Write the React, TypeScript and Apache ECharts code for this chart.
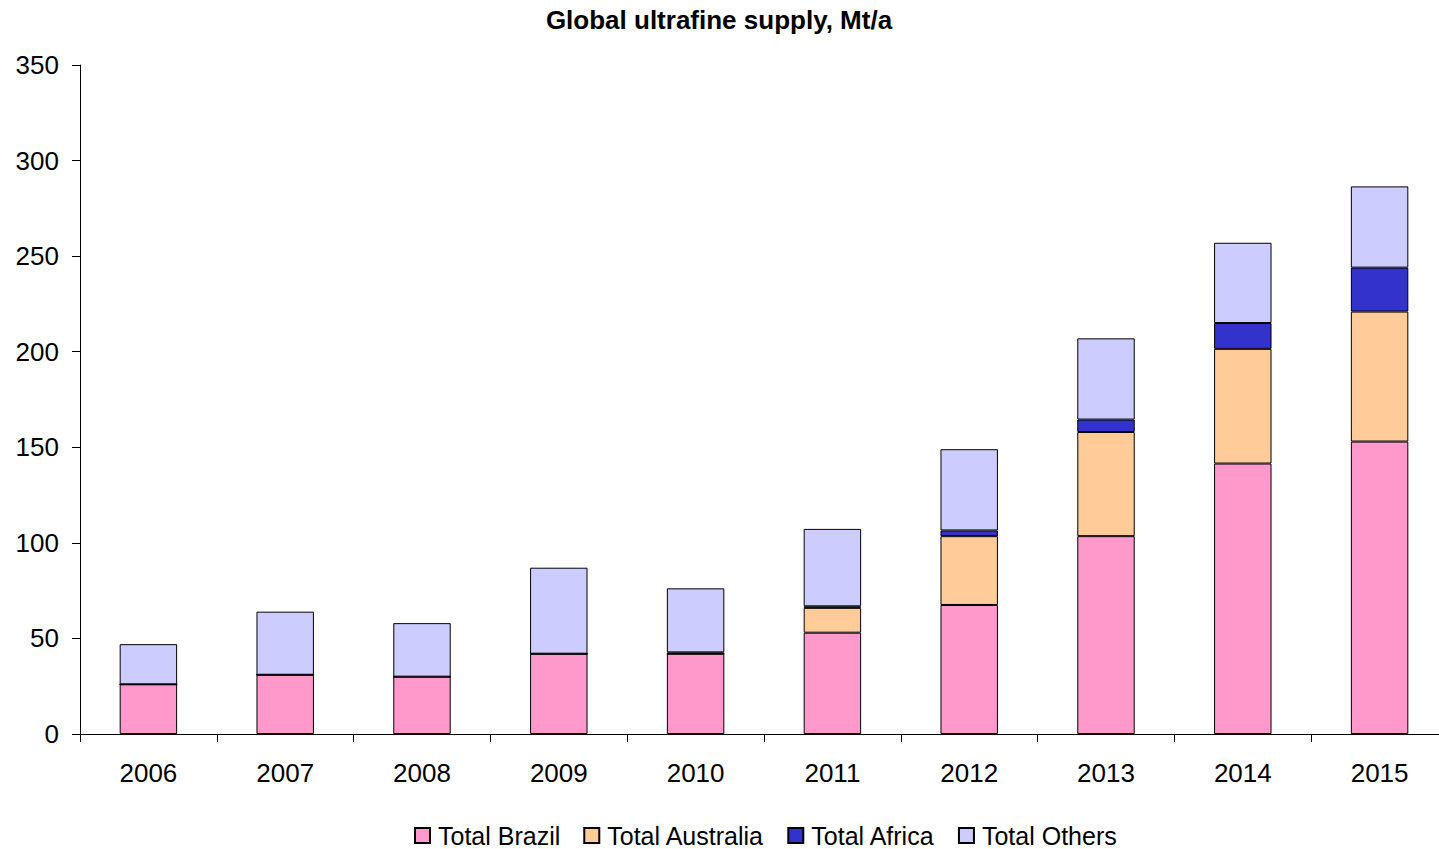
import React, { useEffect, useRef } from "react";
import * as echarts from "echarts";

const years = ["2006", "2007", "2008", "2009", "2010", "2011", "2012", "2013", "2014", "2015"];
const brazil = [26, 31, 30, 42, 42, 53, 67.5, 103.5, 141.5, 153];
const australia = [0, 0, 0, 0, 0, 13, 36, 54.5, 60, 68];
const africa = [0, 0, 0, 0, 0.7, 0.8, 3, 6.5, 13.5, 23];
const others = [21, 33, 28, 45, 33.5, 40.5, 42.5, 42.5, 42, 42.5];
const yTicks = [0, 50, 100, 150, 200, 250, 300, 350];

const FONT = "'Liberation Sans', Arial, sans-serif";

const seriesDefs = [
  { name: "Total Brazil", data: brazil, color: "#FF99CC" },
  { name: "Total Australia", data: australia, color: "#FFCC99" },
  { name: "Total Africa", data: africa, color: "#3333CC" },
  { name: "Total Others", data: others, color: "#CCCCFF" },
];

export default function App() {
  const ref = useRef<HTMLDivElement>(null);

  useEffect(() => {
    if (!ref.current) return;
    const chart = echarts.init(ref.current, undefined, { renderer: "svg" });
    chart.setOption({
      animation: false,
      backgroundColor: "#ffffff",
      title: {
        text: "Global ultrafine supply, Mt/a",
        left: 714,
        textAlign: "center",
        top: 2,
        textStyle: { fontFamily: FONT, fontSize: 26, fontWeight: "bold", color: "#000" },
      },
      legend: {
        top: 823,
        left: 414,
        padding: 0,
        itemWidth: 15,
        itemHeight: 15,
        itemGap: 23,
        icon: "rect",
        textStyle: {
          fontFamily: FONT,
          fontSize: 25,
          lineHeight: 24,
          color: "#000",
          padding: [0, 0, 0, 3],
        },
        data: seriesDefs.map((s) => s.name),
      },
      grid: { left: 80, right: 0, top: 65, bottom: 115, containLabel: false },
      xAxis: {
        type: "category",
        data: years,
        boundaryGap: true,
        axisLine: { lineStyle: { color: "#000", width: 1 } },
        axisTick: { show: true, length: 8, lineStyle: { color: "#000" } },
        axisLabel: { fontFamily: FONT, fontSize: 26, color: "#000", margin: 26 },
      },
      yAxis: {
        type: "value",
        min: yTicks[0],
        max: yTicks[yTicks.length - 1],
        interval: 50,
        axisLine: { show: true, lineStyle: { color: "#000", width: 1 } },
        axisTick: { show: true, length: 8, lineStyle: { color: "#000" } },
        splitLine: { show: false },
        axisLabel: { fontFamily: FONT, fontSize: 26, color: "#000", margin: 21 },
      },
      series: seriesDefs.map((s) => ({
        name: s.name,
        type: "bar",
        stack: "total",
        data: s.data,
        barWidth: "42%",
        itemStyle: { color: s.color, borderColor: "#000", borderWidth: 1 },
      })),
    });
    return () => chart.dispose();
  }, []);

  return (
    <div
      ref={ref}
      style={{ position: "fixed", left: 0, top: 0, width: 1448, height: 849 }}
    />
  );
}
